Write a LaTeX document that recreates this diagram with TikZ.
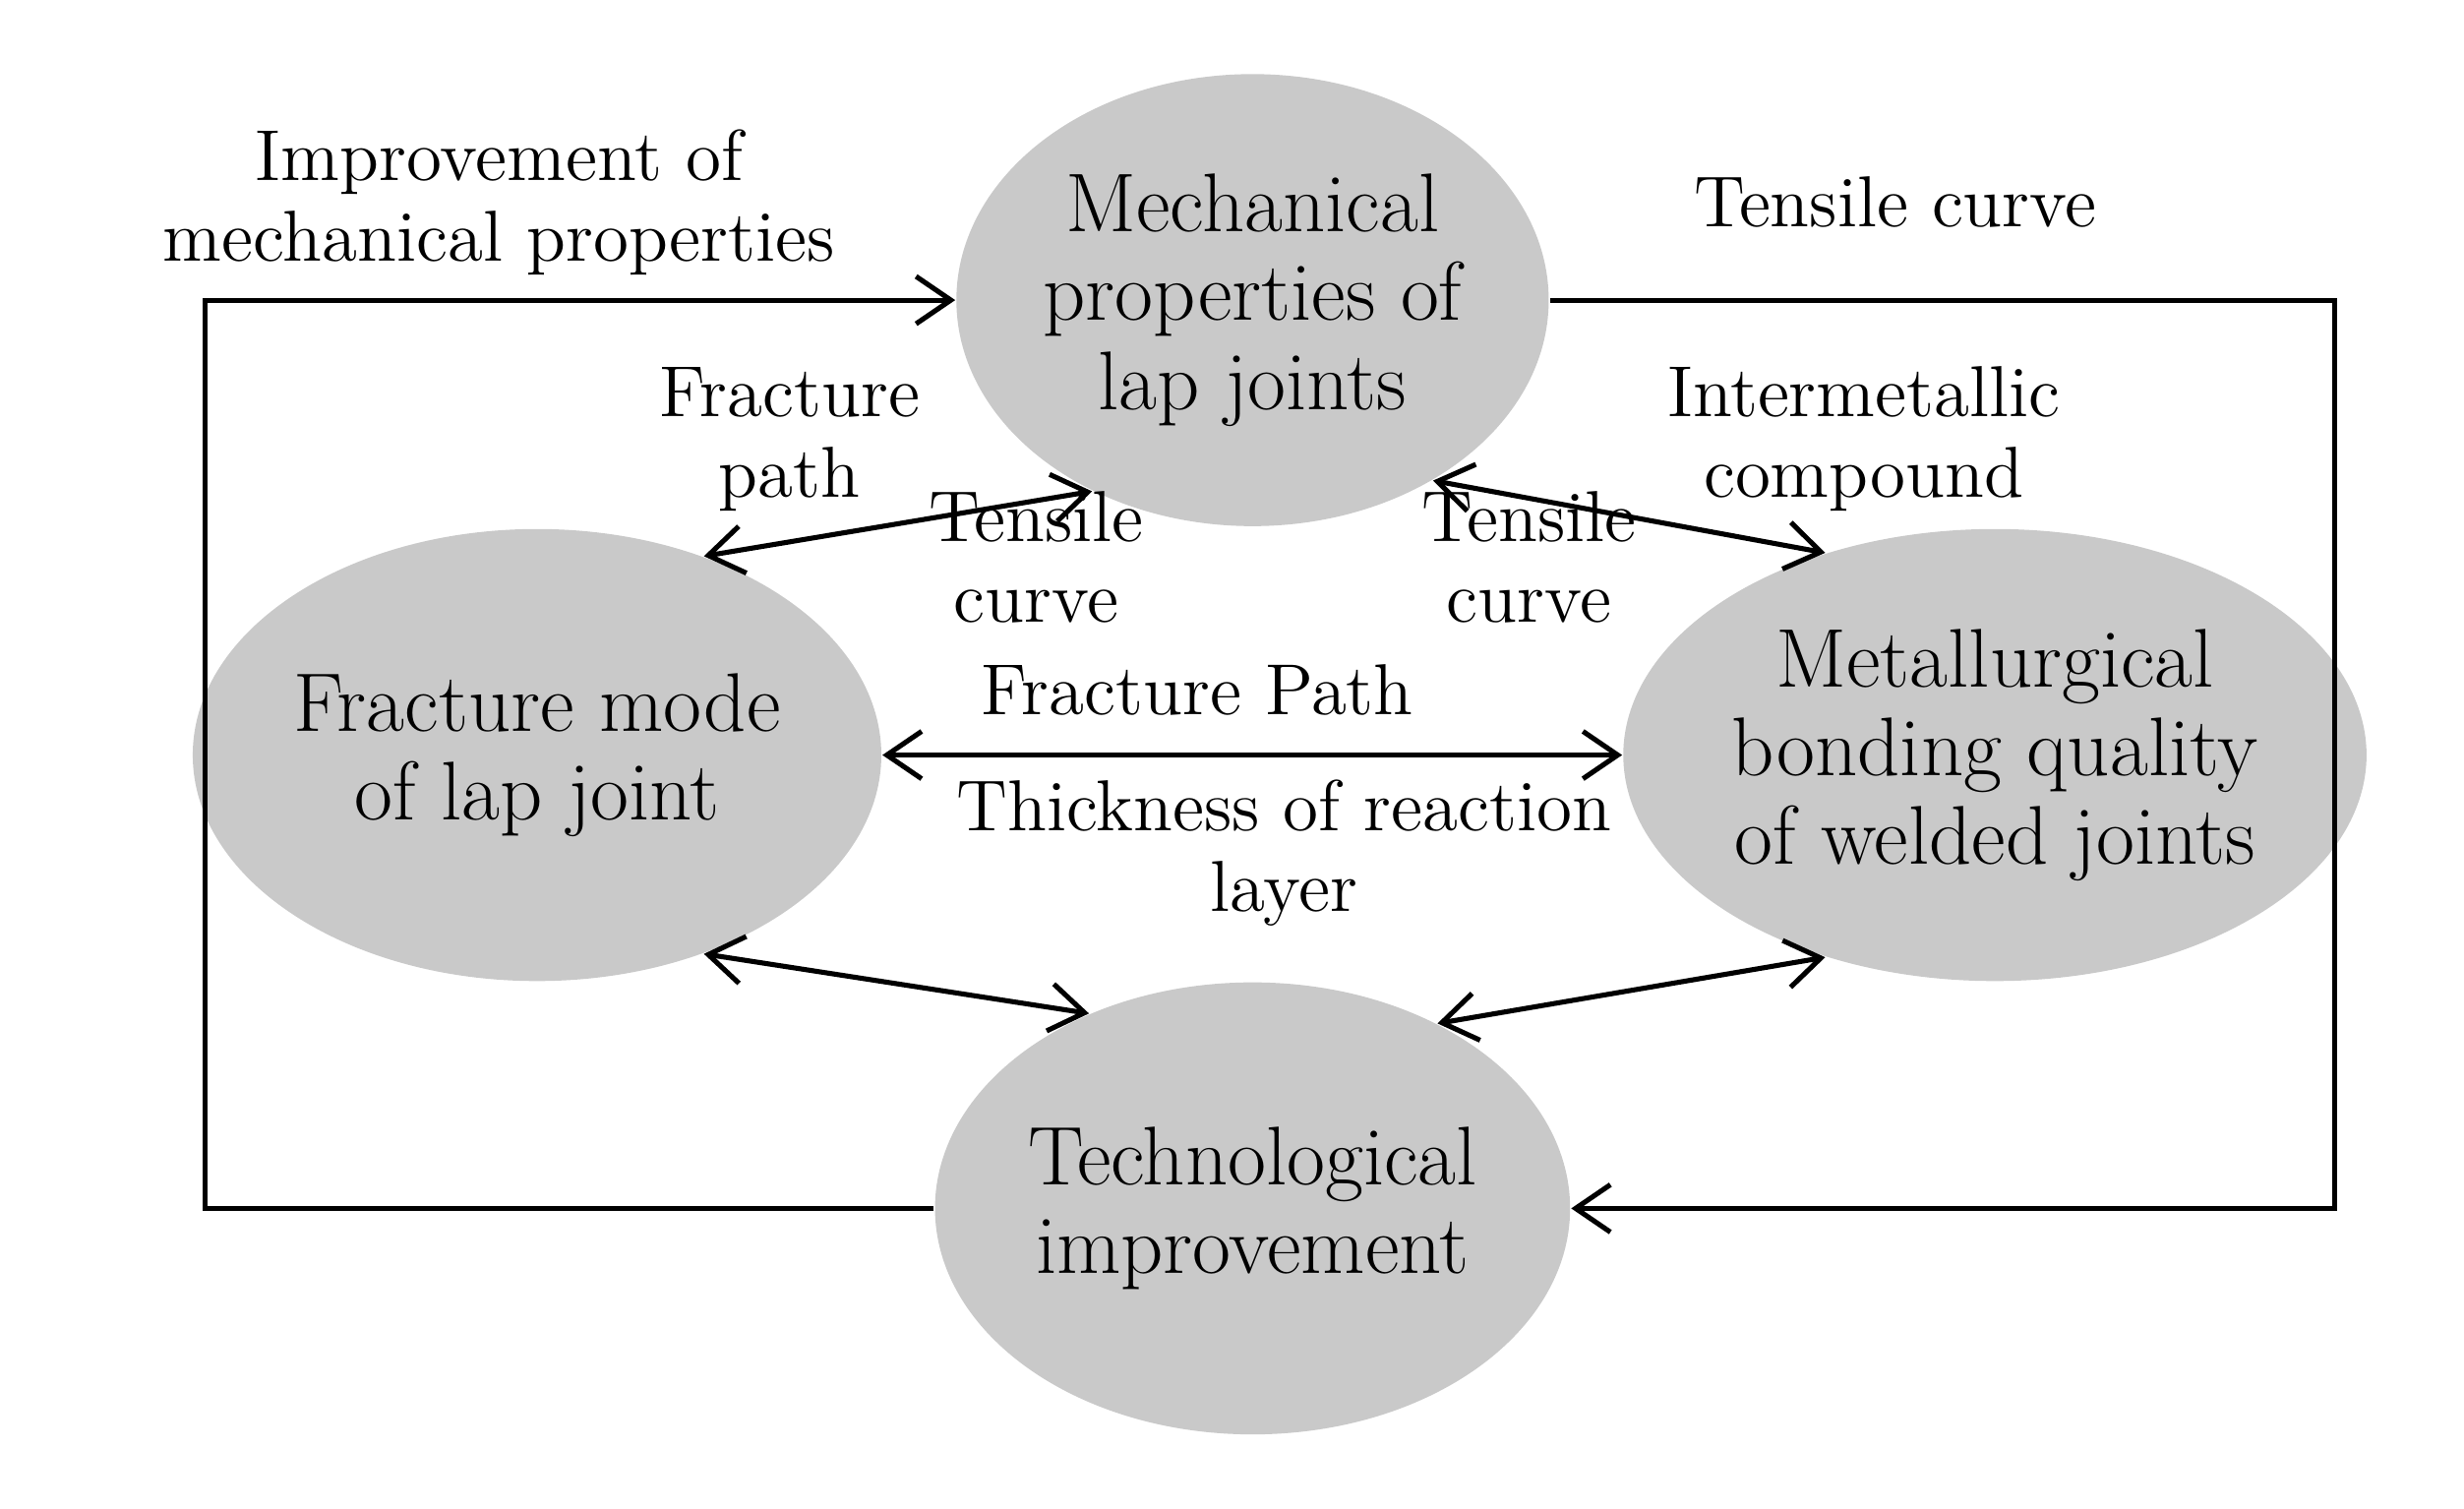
\documentclass[tikz,border=0pt]{standalone}
\usetikzlibrary{shapes.geometric,arrows.meta}
\begin{document}
\begin{tikzpicture}[x=0.01cm,y=-0.01cm,
  blob/.style={ellipse,fill=gray!42,minimum width=350\pgflinewidth,inner sep=0pt,minimum width=3.5cm,minimum height=2.86cm,align=center,font=\fontsize{15}{16}\selectfont},
  lbl/.style={align=center,font=\fontsize{13}{14.5}\selectfont},
  con/.style={line width=0.9pt,-{Straight Barb[length=2.2mm,width=3mm]}},
  dcon/.style={line width=0.9pt,{Straight Barb[length=2.2mm,width=3mm]}-{Straight Barb[length=2.2mm,width=3mm]}}]
\useasboundingbox (0,0) rectangle (1560,955);
\node[blob] (top) at (793,190) {Mechanical\\properties of\\lap joints};
\node[blob] (left) at (340,478) {Fracture mode\\of lap joint};
\node[blob] (right) at (1263,478) {Metallurgical\\bonding quality\\of welded joints};
\node[blob] (bot) at (793,765) {Technological\\improvement};
\coordinate (c1) at (130,765); \coordinate (c2) at (130,190);
\coordinate (c3) at (1478,190); \coordinate (c4) at (1478,765);
\draw[con] (bot.west) -- (c1) -- (c2) -- (top.west);
\draw[con] (top.east) -- (c3) -- (c4) -- (bot.east);
\draw[dcon] (top.-130) -- (left.50);
\draw[dcon] (top.-45) -- (right.130);
\draw[dcon] (left.east) -- (right.west);
\draw[dcon] (left.-50) -- (bot.130);
\draw[dcon] (right.-130) -- (bot.45);
\node[lbl] (l1) at (316,128) {Improvement of\\mechanical properties};
\node[lbl] (l2) at (1200,128) {Tensile curve};
\node[lbl] (l3) at (500,278) {Fracture\\path};
\node[lbl] (l4) at (656,353) {Tensile\\curve};
\node[lbl] (l5) at (968,353) {Tensile\\curve};
\node[lbl] (l6) at (1180,278) {Intermetallic\\compound};
\node[lbl] (l7) at (758,437) {Fracture Path};
\node[lbl] (l8) at (813,540) {Thickness of reaction\\layer};
\end{tikzpicture}
\end{document}
